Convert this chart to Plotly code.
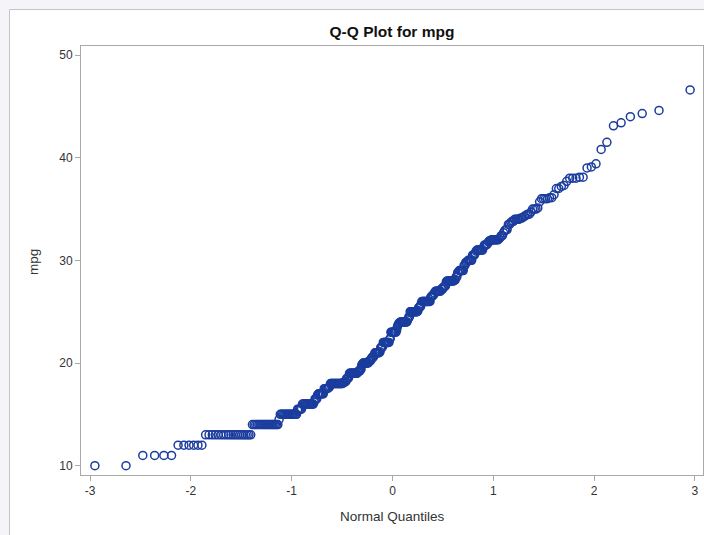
import numpy as np
import plotly.graph_objects as go
from statistics import NormalDist

# Frequency table of mpg values (value -> number of cars)
mpg_levels = [
    10.0, 11.0, 12.0, 13.0, 14.0, 14.5, 15.0, 15.5, 16.0, 16.2, 16.5, 16.9,
    17.0, 17.5, 17.6, 17.7, 18.0, 18.1, 18.2, 18.5, 18.6, 19.0, 19.1, 19.2,
    19.4, 19.8, 19.9, 20.0, 20.2, 20.3, 20.5, 20.6, 20.8, 21.0, 21.1, 21.5,
    21.6, 22.0, 22.3, 22.4, 23.0, 23.2, 23.5, 23.7, 23.8, 23.9, 24.0, 24.2,
    24.3, 24.5, 25.0, 25.1, 25.4, 25.5, 25.8, 26.0, 26.4, 26.5, 26.6, 26.8,
    27.0, 27.2, 27.4, 27.5, 27.9, 28.0, 28.1, 28.4, 28.8, 29.0, 29.5, 29.8,
    29.9, 30.0, 30.5, 30.7, 30.9, 31.0, 31.3, 31.5, 31.6, 31.8, 31.9, 32.0,
    32.1, 32.2, 32.4, 32.7, 32.9, 33.0, 33.5, 33.7, 33.8, 34.0, 34.1, 34.2,
    34.3, 34.4, 34.5, 34.7, 35.0, 35.1, 35.7, 36.0, 36.1, 36.4, 37.0, 37.2,
    37.3, 37.7, 38.0, 38.1, 39.0, 39.1, 39.4, 40.8, 41.5, 43.1, 43.4, 44.0,
    44.3, 44.6, 46.6,
]
mpg_counts = [
    2, 4, 6, 20, 19, 1, 16, 5, 13, 1, 3, 1,
    7, 5, 2, 1, 17, 3, 2, 3, 1, 12, 1, 3,
    2, 1, 1, 9, 3, 1, 2, 2, 1, 8, 1, 3,
    1, 10, 1, 1, 9, 1, 1, 1, 1, 2, 11, 1,
    1, 2, 12, 1, 2, 2, 1, 13, 1, 2, 2, 2,
    8, 3, 2, 2, 1, 10, 2, 2, 2, 6, 2, 2,
    1, 5, 3, 1, 1, 7, 1, 3, 1, 1, 2, 7,
    1, 1, 2, 1, 1, 2, 2, 1, 2, 4, 2, 1,
    1, 1, 2, 1, 3, 1, 1, 4, 2, 1, 2, 1,
    1, 1, 3, 2, 1, 1, 1, 1, 1, 1, 1, 1,
    1, 1, 1,
]

x_ticks = [-3, -2, -1, 0, 1, 2, 3]
y_ticks = [10, 20, 30, 40, 50]

# Sorted sample and Blom normal scores
mpg = np.sort(np.repeat(mpg_levels, mpg_counts))
n = len(mpg)
nd = NormalDist()
normal_q = np.array([nd.inv_cdf((i - 0.375) / (n + 0.25)) for i in range(1, n + 1)])

marker_blue = "#1b3d9e"
fig = go.Figure(
    go.Scatter(
        x=normal_q,
        y=mpg,
        mode="markers",
        marker=dict(symbol="circle-open", size=8, color=marker_blue,
                    line=dict(width=1.5, color=marker_blue)),
        hoverinfo="x+y",
    )
)

frame = "#a9a9a9"
font_family = "Liberation Sans, Arial, sans-serif"
tick_font = dict(family=font_family, size=12, color="#333333")
label_font = dict(family=font_family, size=13.5, color="#333333")

# plot area in pixels and helpers to place page decorations
L, R, T, B = 81, 703, 46, 475
W, H = 704, 535
def px(xp):
    return (xp - L) / (R - L)
def py(yp):
    return (B - yp) / (B - T)

fig.update_layout(
    width=W, height=H,
    margin=dict(l=L, r=W - R, t=T, b=H - B),
    paper_bgcolor="#f4f4f9",
    plot_bgcolor="white",
    showlegend=False,
    title=dict(text="<b>Q-Q Plot for mpg</b>", x=0.5, xref="paper",
               y=(H - 32) / H, yref="container", yanchor="middle",
               font=dict(family=font_family, size=15.5, color="#111111")),
    shapes=[
        dict(type="rect", xref="paper", yref="paper", layer="below",
             x0=px(9), x1=px(W + 2), y0=py(H + 2), y1=py(9),
             fillcolor="white", line=dict(width=0)),
        dict(type="line", xref="paper", yref="paper",
             x0=px(9.5), x1=px(W + 2), y0=py(9.5), y1=py(9.5),
             line=dict(color="#c4c4c4", width=1)),
        dict(type="line", xref="paper", yref="paper",
             x0=px(9.5), x1=px(9.5), y0=py(9.5), y1=py(H + 2),
             line=dict(color="#c4c4c4", width=1)),
    ],
    annotations=[
        dict(text="Normal Quantiles", xref="paper", yref="paper",
             x=0.5, y=py(516), showarrow=False, xanchor="center", yanchor="middle",
             font=label_font),
        dict(text="mpg", xref="paper", yref="paper", textangle=-90,
             x=px(33), y=py(262), showarrow=False, xanchor="center", yanchor="middle",
             font=label_font),
    ],
)

fig.update_xaxes(
    range=[-3.09, 3.08], tickvals=x_ticks, ticktext=[str(v) for v in x_ticks],
    showgrid=False, zeroline=False, showline=True, mirror=True,
    linecolor=frame, linewidth=1, ticks="outside", ticklen=5, tickcolor=frame,
    tickfont=tick_font,
)
fig.update_yaxes(
    range=[9.09, 50.88], tickvals=y_ticks, ticktext=[str(v) for v in y_ticks],
    showgrid=False, zeroline=False, showline=True, mirror=True,
    linecolor=frame, linewidth=1, ticks="outside", ticklen=5, tickcolor=frame,
    tickfont=tick_font,
)

fig.write_html("out.html")
